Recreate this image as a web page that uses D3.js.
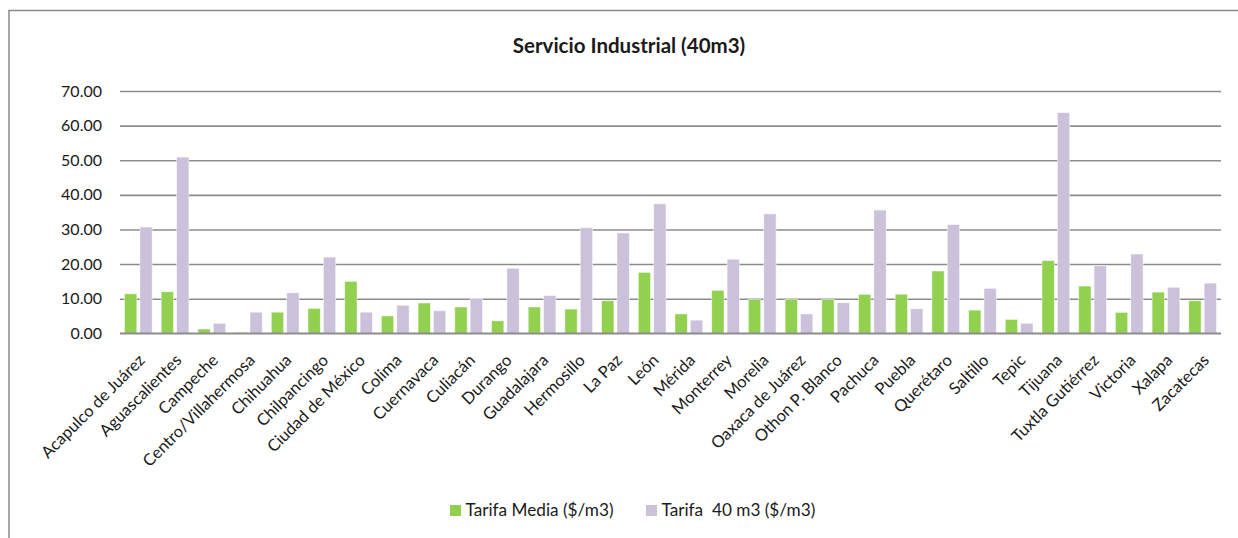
<!DOCTYPE html>
<html>
<head>
<meta charset="utf-8">
<script src="https://cdn.jsdelivr.net/npm/d3@7"></script>
<style>
  html, body { margin: 0; padding: 0; background: #fff; }
  svg { display: block; }
  text { font-family: Lato, "Open Sans", sans-serif; fill: #1a1a1a; }
</style>
</head>
<body>
<svg id="chart" width="1238" height="538"></svg>
<script>
const categories = ["Acapulco de Juárez","Aguascalientes","Campeche","Centro/Villahermosa","Chihuahua","Chilpancingo","Ciudad de México","Colima","Cuernavaca","Culiacán","Durango","Guadalajara","Hermosillo","La Paz","León","Mérida","Monterrey","Morelia","Oaxaca de Juárez","Othon P. Blanco","Pachuca","Puebla","Querétaro","Saltillo","Tepic","Tijuana","Tuxtla Gutiérrez","Victoria","Xalapa","Zacatecas"];
const tarifaMedia = [11.4,12.0,1.25,0.3,6.1,7.2,15.0,5.0,8.75,7.6,3.6,7.6,7.0,9.4,17.6,5.6,12.4,9.8,9.8,9.8,11.25,11.3,18.0,6.7,4.0,21.0,13.65,6.05,11.9,9.4];
const tarifa40 = [30.7,50.9,2.9,6.1,11.7,22.0,6.1,8.1,6.5,10.1,18.8,10.9,30.5,29.0,37.4,3.8,21.4,34.5,5.6,8.85,35.6,7.1,31.4,13.0,2.9,63.75,19.5,22.9,13.3,14.5];
const seriesNames = ["Tarifa Media ($/m3)", "Tarifa  40 m3 ($/m3)"];
const seriesColors = ["#92D050", "#CCC1DA"];
const yTicks = [0,10,20,30,40,50,60,70];
const title = "Servicio Industrial (40m3)";

const svg = d3.select("#chart");
const W = 1238, H = 538;

// outer frame
svg.append("rect").attr("x", 9).attr("y", 10.5).attr("width", W + 20).attr("height", H + 20)
  .attr("fill", "none").attr("stroke", "#8a8a8a").attr("stroke-width", 1.5);

const plot = { left: 120, right: 1221, top: 91, bottom: 333.3 };

const y = d3.scaleLinear().domain([0, 70]).range([plot.bottom, plot.top]);
const x0 = d3.scaleBand().domain(categories).range([plot.left, plot.right])
  .paddingInner(0.245).paddingOuter(0.1225);
const x1 = d3.scaleBand().domain([0, 1]).range([0, x0.bandwidth()]).paddingInner(0.2);

// title
svg.append("text").attr("x", 629).attr("y", 53).attr("text-anchor", "middle")
  .style("font-size", "20.5px").style("font-weight", "bold").text(title);

// gridlines
const yAxis = d3.axisLeft(y).tickValues(yTicks).tickSize(-(plot.right - plot.left))
  .tickFormat(d3.format(".2f")).tickPadding(18);
const gy = svg.append("g").attr("transform", `translate(${plot.left},0)`).call(yAxis);
gy.select(".domain").remove();
gy.selectAll(".tick line").attr("stroke", "#8c8c8c").attr("stroke-width", 1.6);
gy.selectAll(".tick text").style("font-size", "16px").style("font-family", "Lato, sans-serif").attr("fill", "#1a1a1a");

// bars
const data = categories.map((c, i) => ({ c, v: [tarifaMedia[i], tarifa40[i]] }));
const groups = svg.append("g").selectAll("g").data(data).join("g")
  .attr("transform", d => `translate(${x0(d.c)},0)`);
groups.selectAll("rect").data(d => d.v.map((v, k) => ({ v, k }))).join("rect")
  .attr("x", d => x1(d.k))
  .attr("width", x1.bandwidth())
  .attr("y", d => y(d.v))
  .attr("height", d => y(0) - y(d.v))
  .attr("fill", d => seriesColors[d.k])
  .attr("stroke", "rgba(255,255,255,0.6)").attr("stroke-width", 0.8);

// baseline redraw
svg.append("line").attr("x1", plot.left).attr("x2", plot.right)
  .attr("y1", y(0)).attr("y2", y(0)).attr("stroke", "#8c8c8c").attr("stroke-width", 1.6);

// x labels
const xAxis = d3.axisBottom(x0).tickSize(0).tickPadding(0);
const gx = svg.append("g").attr("transform", `translate(0,${plot.bottom})`).call(xAxis);
gx.select(".domain").remove();
gx.selectAll(".tick text")
  .style("font-size", "16.5px").style("font-family", "Lato, sans-serif").attr("fill", "#1a1a1a")
  .attr("text-anchor", "end")
  .attr("dy", null).attr("y", null)
  .attr("transform", "translate(7.5,28) rotate(-45)");

// legend
const legend = svg.append("g").attr("transform", "translate(450,516)");
const legItems = [{ x: 0, k: 0 }, { x: 196, k: 1 }];
legItems.forEach(it => {
  legend.append("rect").attr("x", it.x).attr("y", -11).attr("width", 11).attr("height", 11)
    .attr("fill", seriesColors[it.k]);
  legend.append("text").attr("x", it.x + 15.5).attr("y", 0)
    .attr("xml:space", "preserve").style("white-space", "pre")
    .style("font-size", "17.2px").text(seriesNames[it.k]);
});
</script>
</body>
</html>
